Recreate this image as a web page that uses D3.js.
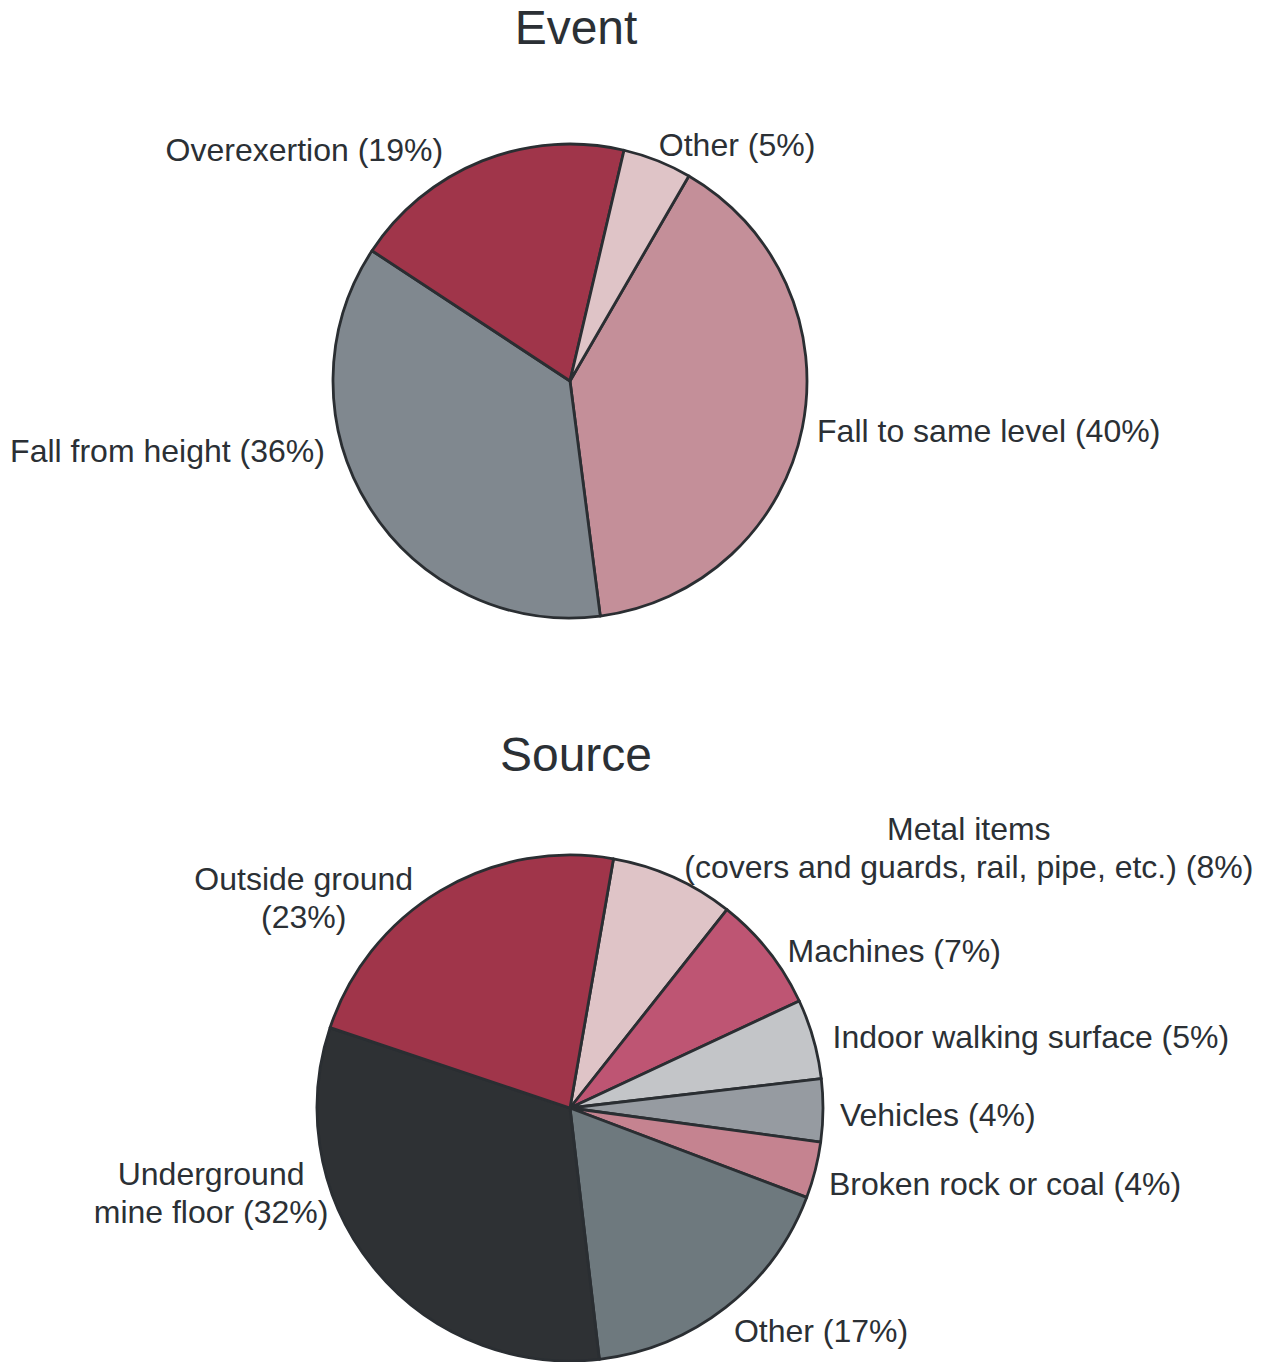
<!DOCTYPE html>
<html>
<head>
<meta charset="utf-8">
<script src="https://cdn.jsdelivr.net/npm/d3@7"></script>
<style>
  body { margin: 0; background: #fff; }
  svg text { font-family: "Liberation Sans", Arial, sans-serif; fill: #2b3035; }
</style>
</head>
<body>
<svg width="1271" height="1362"></svg>
<script>
// event pie
var eventCats = ["Fall to same level", "Fall from height", "Overexertion", "Other"];
var eventVals = [39.6, 36.3, 19.4, 4.7];
var eventColors = ["#c48f99", "#80888f", "#a0354a", "#dfc4c7"];

// source pie
var sourceCats = ["Metal items\n(covers and guards, rail, pipe, etc.)", "Machines", "Indoor walking surface",
  "Vehicles", "Broken rock or coal", "Other", "Underground\nmine floor", "Outside ground\n"];
var sourceVals = [7.9, 7.4, 5.1, 4.0, 3.6, 17.4, 32.0, 22.6];
var sourceColors = ["#dfc4c7", "#be5573", "#c3c5c8", "#969ba1", "#c58390", "#6e797e", "#2e3134", "#a0354a"];

var svg = d3.select("svg");
var fmt = d3.format(".0f");
var rad = Math.PI / 180;

// layout: label nudges (degrees turned, px pushed out) so labels sit where the original put them
var panels = [
  {title: "Event", cats: eventCats, vals: eventVals, colors: eventColors,
   cx: 570, cy: 381, r: 237, start: 30.1,
   turn: [0, 16, -7, -1], push: [0, 3, 12, 0]},
  {title: "Source", cats: sourceCats, vals: sourceVals, colors: sourceColors,
   cx: 570, cy: 1108, r: 253, start: 9.9,
   turn: [-0.4, 2.6, 0.7, 1, 2.2, 1.7, 19.7, -6], push: [16, 0, 4, 2, 2, 9, -12, -6]}
];

panels.forEach(function(p) {
  var total = d3.sum(p.vals);
  var data = p.vals.map(function(v, i) { return {cat: p.cats[i], value: v, i: i}; });

  var pie = d3.pie()
      .sort(null)
      .value(function(d) { return d.value; })
      .startAngle(p.start * rad)
      .endAngle(p.start * rad + 2 * Math.PI);

  var arc = d3.arc().innerRadius(0).outerRadius(p.r);

  var g = svg.append("g").attr("transform", "translate(" + p.cx + "," + p.cy + ")");

  var arcs = pie(data);

  g.selectAll("path")
      .data(arcs)
      .enter().append("path")
      .attr("d", arc)
      .attr("fill", function(d) { return p.colors[d.data.i]; })
      .attr("stroke", "#2a2e32")
      .attr("stroke-width", 2.8)
      .attr("stroke-linejoin", "round");

  svg.append("text")
      .attr("x", 576)
      .attr("y", p.cy - 337)
      .attr("text-anchor", "middle")
      .style("font-size", "48px")
      .text(p.title);

  arcs.forEach(function(d) {
    var i = d.data.i;
    var a = (d.startAngle + d.endAngle) / 2 + p.turn[i] * rad;
    var dist = p.r + 15 + p.push[i];
    var ax = Math.sin(a) * dist, ay = -Math.cos(a) * dist;

    var pct = fmt(d.data.value / total * 100);
    var lines = d.data.cat.split("\n");
    var last = lines[lines.length - 1];
    lines[lines.length - 1] = (last ? last + " " : "") + "(" + pct + "%)";

    var lg = g.append("g");
    var t = lg.append("text")
        .attr("text-anchor", "middle")
        .style("font-size", "32px");
    lines.forEach(function(line, k) {
      t.append("tspan")
          .attr("x", 0)
          .attr("dy", k === 0 ? 0 : "1.2em")
          .text(line);
    });

    var bb = lg.node().getBBox();
    var tx = Math.sin(a) >= 0 ? ax - bb.x : ax - (bb.x + bb.width);
    var ty = ay - (bb.y + bb.height / 2);
    lg.attr("transform", "translate(" + tx + "," + ty + ")");
  });
});
</script>
</body>
</html>
